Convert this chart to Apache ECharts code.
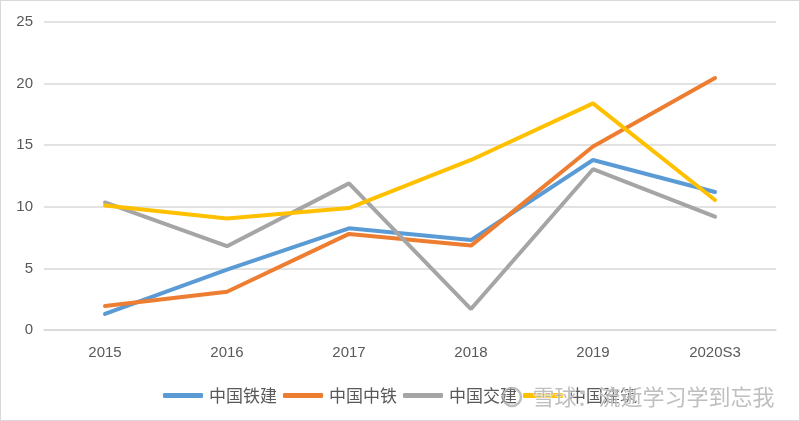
<!DOCTYPE html>
<html><head><meta charset="utf-8">
<script src="https://cdn.jsdelivr.net/npm/echarts@6/dist/echarts.min.js"></script>
<style>html,body{margin:0;padding:0;background:#fff}#c{width:798px;height:419px;border:1px solid #d9d9d9}</style>
</head><body><div id="c"></div>
<script>
const categories = ['2015','2016','2017','2018','2019','2020S3'];
const crcc = [1.3, 4.9, 8.25, 7.3, 13.8, 11.2];
const crec = [1.95, 3.1, 7.8, 6.85, 14.9, 20.45];
const cccc = [10.35, 6.8, 11.9, 1.7, 13.05, 9.2];
const cscec = [10.1, 9.05, 9.9, 13.8, 18.4, 10.55];
const names = ['中国铁建','中国中铁','中国交建','中国建筑'];
const colors = ['#5B9BD5','#ED7D31','#A5A5A5','#FFC000'];
const yTicks = [0,5,10,15,20,25];
const chart = echarts.init(document.getElementById('c'));
const mk = (n,d,c)=>({name:n,type:'line',data:d,symbol:'none',lineStyle:{width:4,color:c,cap:'round'},itemStyle:{color:c}});
chart.setOption({
  animation:false,
  grid:{left:43,right:23,top:21,bottom:90},
  legend:{top:381,left:'center',itemWidth:40,itemHeight:5,itemGap:6,icon:'roundRect',
    textStyle:{color:'#595959',fontSize:17,fontFamily:'Noto Sans CJK SC',padding:[0,0,0,1]},data:names},
  xAxis:{type:'category',data:categories,boundaryGap:true,
    axisLine:{lineStyle:{color:'#d9d9d9',width:1.5}},axisTick:{show:false},
    axisLabel:{color:'#595959',fontSize:15,fontFamily:'Liberation Sans',margin:15}},
  yAxis:{type:'value',min:yTicks[0],max:yTicks[yTicks.length-1],interval:5,
    axisLine:{show:false},axisTick:{show:false},
    splitLine:{lineStyle:{color:'#d9d9d9',width:1.5}},
    axisLabel:{color:'#595959',fontSize:15,fontFamily:'Liberation Sans',margin:11}},
  series:[mk(names[0],crcc,colors[0]),mk(names[1],crec,colors[1]),mk(names[2],cccc,colors[2]),mk(names[3],cscec,colors[3])],
  graphic:[
    {type:'circle',z:100,shape:{cx:511,cy:396,r:9},style:{fill:'none',stroke:'rgba(170,170,170,0.75)',lineWidth:2.5}},
    {type:'text',left:531,top:384,z:100,style:{text:'雪球：流逝学习学到忘我',fill:'rgba(170,170,170,0.75)',
    stroke:'rgba(255,255,255,0.8)',lineWidth:1,font:'22px "Noto Sans CJK SC"'}}]
});
</script></body></html>
